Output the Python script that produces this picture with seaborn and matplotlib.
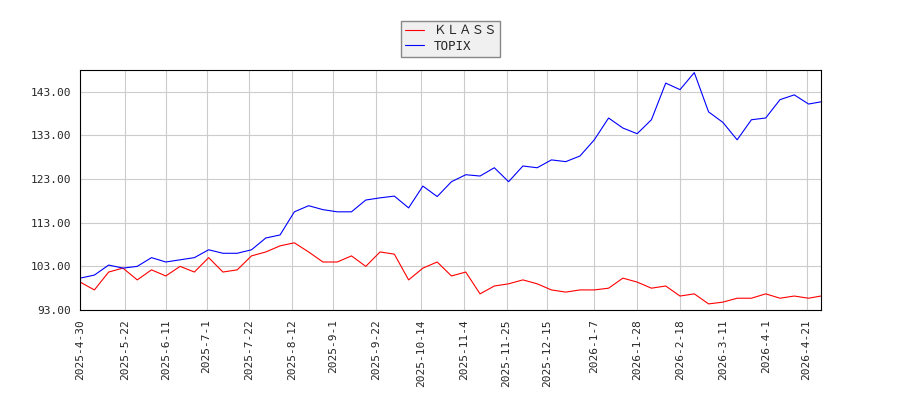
import pandas as pd
import matplotlib
matplotlib.use("Agg")
import matplotlib.pyplot as plt
import seaborn as sns

# weekly readings
dates = pd.date_range("2025-04-30", periods=53, freq="7D").tolist()
dates[-1] = pd.Timestamp("2026-04-28")

klass = [99.4, 97.6, 101.7, 102.6, 99.9, 102.2, 100.8, 103.0, 101.7, 105.0,
         101.7, 102.2, 105.4, 106.3, 107.7, 108.4, 106.3, 104.0, 104.0, 105.4,
         103.0, 106.3, 105.8, 99.9, 102.6, 104.0, 100.8, 101.7, 96.7, 98.5,
         99.0, 99.9, 99.0, 97.6, 97.1, 97.6, 97.6, 98.0, 100.3, 99.4,
         98.0, 98.5, 96.2, 96.7, 94.4, 94.8, 95.7, 95.7, 96.7, 95.7,
         96.2, 95.7, 96.2]
topix = [100.3, 101.0, 103.3, 102.6, 103.0, 105.0, 104.0, 104.5, 105.0, 106.8,
         106.0, 106.0, 106.8, 109.5, 110.2, 115.5, 116.9, 116.0, 115.5, 115.5,
         118.2, 118.7, 119.1, 116.4, 121.4, 119.0, 122.4, 124.0, 123.7, 125.6,
         122.4, 126.0, 125.6, 127.4, 127.0, 128.3, 132.0, 137.0, 134.7, 133.4,
         136.6, 145.0, 143.5, 147.4, 138.4, 136.0, 132.0, 136.6, 137.0, 141.2,
         142.3, 140.2, 140.7]

tick_labels = ["2025-4-30", "2025-5-22", "2025-6-11", "2025-7-1", "2025-7-22",
               "2025-8-12", "2025-9-1", "2025-9-22", "2025-10-14", "2025-11-4",
               "2025-11-25", "2025-12-15", "2026-1-7", "2026-1-28", "2026-2-18",
               "2026-3-11", "2026-4-1", "2026-4-21"]

df = pd.DataFrame({"date": dates, "ＫＬＡＳＳ": klass, "TOPIX": topix})
long_df = df.melt("date", var_name="series", value_name="value")

sns.set_style("white")
plt.rcParams["font.family"] = ["DejaVu Sans Mono", "Noto Sans CJK JP"]

fig = plt.figure(figsize=(9, 4), dpi=100)
ax = fig.add_axes([0.089, 0.225, 0.823, 0.6])
sns.lineplot(data=long_df, x="date", y="value", hue="series",
             palette={"ＫＬＡＳＳ": "red", "TOPIX": "blue"}, linewidth=0.8, ax=ax)

ax.set_xlim(pd.Timestamp("2025-04-30"), pd.Timestamp("2026-04-28"))
ax.set_ylim(93, 148)
ax.set_yticks([93, 103, 113, 123, 133, 143])
ax.yaxis.set_major_formatter(matplotlib.ticker.FormatStrFormatter("%.2f"))
ax.set_xticks(pd.to_datetime(tick_labels))
ax.set_xticklabels(tick_labels, rotation=90)
ax.tick_params(labelsize=8, length=3)
ax.grid(color="#cccccc", linewidth=0.8)
ax.set_xlabel("")
ax.set_ylabel("")
for s in ax.spines.values():
    s.set_color("black")

ax.legend(title=None, loc="lower center", bbox_to_anchor=(0.5, 1.03), fontsize=9,
          facecolor="#f0f0f0", edgecolor="#888888", fancybox=False, framealpha=1,
          handlelength=1.5, borderpad=0.3, labelspacing=0.2)

fig.savefig("out.png")
